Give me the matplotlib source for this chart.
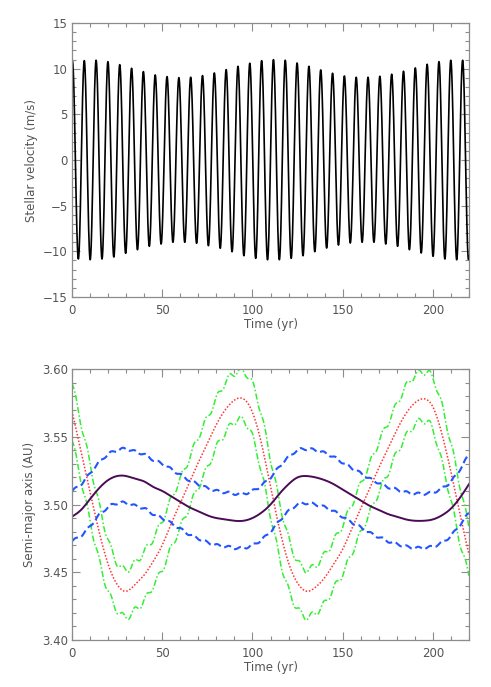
import numpy as np
import matplotlib
matplotlib.use("Agg")
import matplotlib.pyplot as plt
from matplotlib.ticker import MultipleLocator

# ---------------- data ----------------
# Top panel: stellar velocity; extrema of each orbit (m/s)
rv_period = 6.552          # yr, spacing between successive peaks
rv_first_peak = 6.8        # yr
rv_first_trough = 3.52     # yr
rv_start_value = 10.8      # value of the peak just before t=0
rv_peaks = [10.88, 10.92, 10.77, 10.44, 10.04, 9.68, 9.31, 9.13, 9.02, 9.06,
            9.24, 9.53, 9.90, 10.26, 10.59, 10.88,
            10.99, 10.92, 10.62, 10.26, 9.86, 9.50, 9.20, 9.06, 9.06, 9.17,
            9.39, 9.72, 10.08, 10.48, 10.77, 10.92, 10.92]
rv_troughs = [-10.84, -10.92, -10.84, -10.62, -10.22, -9.82, -9.45, -9.20, -9.01,
              -9.01, -9.12, -9.38, -9.67, -10.04, -10.48, -10.77, -10.92,
              -10.92, -10.77, -10.48, -10.04, -9.64, -9.31, -9.09, -9.01, -9.01,
              -9.20, -9.45, -9.82, -10.18, -10.55, -10.84, -10.92, -10.90]
rv_end_value = 10.9

# Bottom panel: semi-major axes (AU), sampled every 5 yr
t_a = list(range(0, 221, 5))
a_purple = [3.491, 3.496, 3.504, 3.512, 3.518, 3.521, 3.521, 3.519, 3.517, 3.513,
            3.510, 3.506, 3.502, 3.498, 3.495, 3.492, 3.490, 3.489, 3.488, 3.488,
            3.490, 3.494, 3.500, 3.508, 3.515, 3.520, 3.521, 3.520, 3.518, 3.515,
            3.511, 3.507, 3.503, 3.499, 3.496, 3.493, 3.491, 3.489, 3.488, 3.488,
            3.489, 3.492, 3.497, 3.505, 3.515]
a_blue_hi = [3.510, 3.515, 3.523, 3.531, 3.537, 3.540, 3.541, 3.539, 3.537, 3.533,
             3.530, 3.526, 3.522, 3.518, 3.515, 3.512, 3.510, 3.509, 3.508, 3.508,
             3.510, 3.514, 3.520, 3.528, 3.535, 3.540, 3.541, 3.540, 3.538, 3.535,
             3.531, 3.527, 3.523, 3.519, 3.516, 3.513, 3.511, 3.509, 3.508, 3.508,
             3.509, 3.512, 3.517, 3.526, 3.537]
a_blue_lo = [3.473, 3.477, 3.484, 3.492, 3.498, 3.501, 3.501, 3.499, 3.497, 3.493,
             3.490, 3.486, 3.482, 3.478, 3.475, 3.472, 3.470, 3.469, 3.468, 3.468,
             3.470, 3.474, 3.480, 3.488, 3.495, 3.500, 3.501, 3.500, 3.498, 3.495,
             3.491, 3.487, 3.483, 3.479, 3.476, 3.473, 3.471, 3.469, 3.468, 3.468,
             3.469, 3.472, 3.477, 3.485, 3.494]
a_red = [3.569, 3.539, 3.509, 3.480, 3.456, 3.441, 3.436, 3.441, 3.448, 3.458,
         3.470, 3.486, 3.501, 3.516, 3.531, 3.545, 3.559, 3.570, 3.577, 3.578,
         3.568, 3.545, 3.513, 3.482, 3.457, 3.442, 3.436, 3.439, 3.446, 3.456,
         3.467, 3.482, 3.497, 3.512, 3.527, 3.541, 3.555, 3.567, 3.575, 3.578,
         3.572, 3.552, 3.524, 3.493, 3.463]
a_green_hi = [3.590, 3.560, 3.530, 3.500, 3.474, 3.457, 3.452, 3.457, 3.465, 3.475,
              3.488, 3.504, 3.519, 3.534, 3.550, 3.564, 3.578, 3.590, 3.597, 3.598,
              3.589, 3.566, 3.534, 3.502, 3.475, 3.458, 3.452, 3.455, 3.463, 3.473,
              3.485, 3.500, 3.515, 3.530, 3.546, 3.560, 3.574, 3.587, 3.595, 3.598,
              3.593, 3.573, 3.545, 3.514, 3.483]
a_green_lo = [3.548, 3.518, 3.488, 3.459, 3.436, 3.422, 3.417, 3.422, 3.429, 3.440,
              3.452, 3.468, 3.483, 3.498, 3.513, 3.527, 3.542, 3.553, 3.561, 3.562,
              3.550, 3.524, 3.492, 3.461, 3.437, 3.423, 3.417, 3.420, 3.427, 3.438,
              3.449, 3.464, 3.479, 3.494, 3.509, 3.523, 3.538, 3.550, 3.559, 3.562,
              3.555, 3.531, 3.503, 3.472, 3.448]
wiggle_green = 0.0025      # AU, amplitude of the short-period ripple
wiggle_blue = 0.0009


# ---------------- build curves ----------------
def rv_curve(t):
    ext_t = [rv_first_peak - rv_period]
    ext_v = [rv_start_value]
    n = max(len(rv_peaks), len(rv_troughs))
    for k in range(n):
        if k < len(rv_troughs):
            ext_t.append(rv_first_trough + k * rv_period)
            ext_v.append(rv_troughs[k])
        if k < len(rv_peaks):
            ext_t.append(rv_first_peak + k * rv_period)
            ext_v.append(rv_peaks[k])
    ext_t.append(ext_t[-1] + rv_period / 2)
    ext_v.append(rv_end_value)
    ext_t = np.array(ext_t)
    ext_v = np.array(ext_v)
    order = np.argsort(ext_t)
    ext_t, ext_v = ext_t[order], ext_v[order]
    idx = np.clip(np.searchsorted(ext_t, t) - 1, 0, len(ext_t) - 2)
    t0, t1 = ext_t[idx], ext_t[idx + 1]
    v0, v1 = ext_v[idx], ext_v[idx + 1]
    u = (t - t0) / (t1 - t0)
    return v0 + (v1 - v0) * (1 - np.cos(np.pi * u)) / 2


def smooth_through(x, y, xf):
    """Natural cubic spline through the read points (for drawing only)."""
    x = np.asarray(x, float)
    y = np.asarray(y, float)
    n = len(x)
    h = np.diff(x)
    A = np.zeros((n, n))
    b = np.zeros(n)
    A[0, 0] = A[-1, -1] = 1
    for i in range(1, n - 1):
        A[i, i - 1] = h[i - 1]
        A[i, i] = 2 * (h[i - 1] + h[i])
        A[i, i + 1] = h[i]
        b[i] = 3 * ((y[i + 1] - y[i]) / h[i] - (y[i] - y[i - 1]) / h[i - 1])
    c = np.linalg.solve(A, b)
    bb = (y[1:] - y[:-1]) / h - h * (2 * c[:-1] + c[1:]) / 3
    d = (c[1:] - c[:-1]) / (3 * h)
    idx = np.clip(np.searchsorted(x, xf) - 1, 0, n - 2)
    dx = xf - x[idx]
    return y[idx] + bb[idx] * dx + c[idx] * dx ** 2 + d[idx] * dx ** 3


tt = np.linspace(0, 220, 3000)
vv = rv_curve(tt)

tf = np.linspace(0, 220, 1500)
rip = np.sin(2 * np.pi * (tf - rv_first_peak) / rv_period)
p_f = smooth_through(t_a, a_purple, tf)
bh_f = smooth_through(t_a, a_blue_hi, tf) + wiggle_blue * rip
bl_f = smooth_through(t_a, a_blue_lo, tf) + wiggle_blue * rip
r_f = smooth_through(t_a, a_red, tf)
gh_f = smooth_through(t_a, a_green_hi, tf) + wiggle_green * rip
gl_f = smooth_through(t_a, a_green_lo, tf) + wiggle_green * rip

# ---------------- figure ----------------
plt.rcParams['font.family'] = ['DejaVu Sans']
txt = '#555555'
spc = '#8c8c8c'
fig = plt.figure(figsize=(4.91, 6.87), dpi=100)
ax1 = fig.add_axes([72 / 491, 1 - 297 / 687, 397 / 491, 274 / 687])
ax2 = fig.add_axes([72 / 491, 1 - 640 / 687, 397 / 491, 271 / 687])


def style(ax):
    for s in ax.spines.values():
        s.set_color(spc)
        s.set_linewidth(0.9)
    ax.tick_params(which='both', direction='in', top=True, right=True,
                   colors=spc, labelcolor=txt, labelsize=8.5, width=0.8)
    ax.tick_params(which='major', length=6)
    ax.tick_params(which='minor', length=3)
    ax.tick_params(axis='x', pad=5)
    ax.tick_params(axis='y', pad=3)
    ax.set_xlim(0, 220)
    ax.xaxis.set_major_locator(MultipleLocator(50))
    ax.xaxis.set_minor_locator(MultipleLocator(10))
    ax.set_xlabel('Time (yr)', color=txt, fontsize=8.5, labelpad=1)


ax1.plot(tt, vv, color='black', lw=1.2)
ax1.set_ylim(-15, 15)
ax1.yaxis.set_major_locator(MultipleLocator(5))
ax1.yaxis.set_minor_locator(MultipleLocator(1))
style(ax1)
ax1.set_ylabel('Stellar velocity (m/s)', color=txt, fontsize=8.5, labelpad=4)

ax2.plot(tf, gh_f, color='#33ee33', lw=1.1, dashes=(4, 1.5, 1, 1.5))
ax2.plot(tf, gl_f, color='#33ee33', lw=1.1, dashes=(4, 1.5, 1, 1.5))
ax2.plot(tf, r_f, color='#ff3333', lw=1.1, dashes=(1, 1.2))
ax2.plot(tf, bh_f, color='#2255ff', lw=1.5, dashes=(3.5, 1.8))
ax2.plot(tf, bl_f, color='#2255ff', lw=1.5, dashes=(3.5, 1.8))
ax2.plot(tf, p_f, color='#4a0a55', lw=1.4)
ax2.set_ylim(3.40, 3.60)
ax2.yaxis.set_major_locator(MultipleLocator(0.05))
ax2.yaxis.set_minor_locator(MultipleLocator(0.01))
ax2.yaxis.set_major_formatter(matplotlib.ticker.FormatStrFormatter('%.2f'))
style(ax2)
ax2.set_ylabel('Semi-major axis (AU)', color=txt, fontsize=8.5, labelpad=4)

fig.savefig('out.png', dpi=100)
